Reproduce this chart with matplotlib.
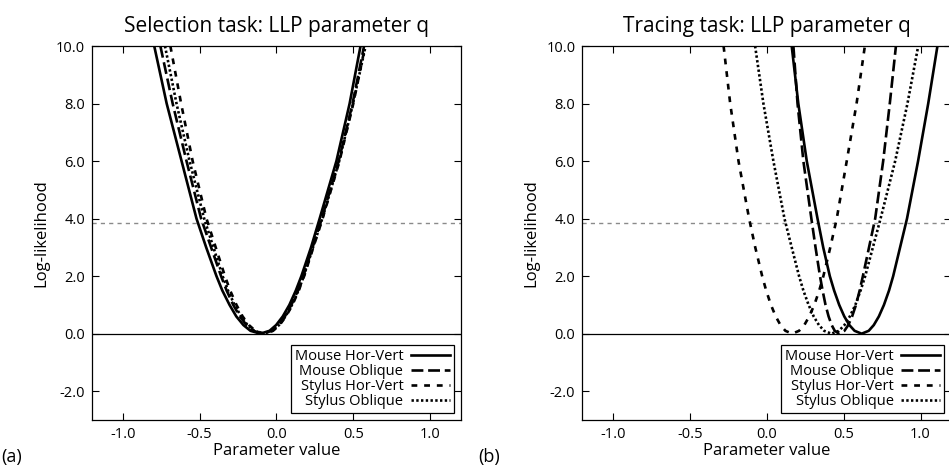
import matplotlib
matplotlib.use("Agg")
import matplotlib.pyplot as plt

plt.rcParams['font.family'] = ['Open Sans', 'DejaVu Sans']

# likelihood levels (left branch top->bottom, right branch bottom->top)
levels_down = [10, 8, 6, 4, 3, 2, 1.5, 1, 0.6, 0.3, 0.1, 0]
levels_up = [0.1, 0.3, 0.6, 1, 1.5, 2, 3, 4, 6, 8, 10]
chi_cut = 3.84

series_names = ['Mouse Hor-Vert', 'Mouse Oblique', 'Stylus Hor-Vert', 'Stylus Oblique']

# (a) Selection task: parameter value at each level
sel_mouse_hv_left = [-0.795, -0.714, -0.617, -0.52, -0.457, -0.39, -0.352, -0.305, -0.261, -0.215, -0.169, -0.105]
sel_mouse_hv_right = [-0.045, -0.002, 0.041, 0.084, 0.126, 0.162, 0.225, 0.281, 0.39, 0.476, 0.547]
sel_mouse_ob_left = [-0.755, -0.675, -0.585, -0.49, -0.425, -0.36, -0.324, -0.281, -0.238, -0.195, -0.15, -0.09]
sel_mouse_ob_right = [-0.031, 0.013, 0.055, 0.097, 0.14, 0.175, 0.235, 0.295, 0.405, 0.495, 0.57]
sel_stylus_hv_left = [-0.69, -0.62, -0.545, -0.455, -0.395, -0.335, -0.301, -0.26, -0.22, -0.179, -0.137, -0.08]
sel_stylus_hv_right = [-0.022, 0.02, 0.062, 0.104, 0.145, 0.18, 0.24, 0.30, 0.41, 0.50, 0.577]
sel_stylus_ob_left = [-0.725, -0.65, -0.565, -0.47, -0.41, -0.35, -0.315, -0.272, -0.23, -0.188, -0.144, -0.085]
sel_stylus_ob_right = [-0.026, 0.017, 0.059, 0.101, 0.143, 0.178, 0.238, 0.298, 0.408, 0.498, 0.58]

# (b) Tracing task
tr_mouse_hv_left = [0.162, 0.205, 0.26, 0.33, 0.367, 0.41, 0.438, 0.471, 0.504, 0.537, 0.571, 0.617]
tr_mouse_hv_right = [0.663, 0.696, 0.729, 0.762, 0.795, 0.822, 0.867, 0.912, 0.984, 1.05, 1.11]
tr_mouse_ob_left = [0.173, 0.20, 0.238, 0.29, 0.317, 0.346, 0.363, 0.382, 0.402, 0.422, 0.442, 0.47]
tr_mouse_ob_right = [0.505, 0.53, 0.555, 0.58, 0.604, 0.625, 0.665, 0.705, 0.757, 0.80, 0.84]
tr_stylus_hv_left = [-0.281, -0.238, -0.184, -0.115, -0.075, -0.03, -0.004, 0.027, 0.058, 0.089, 0.121, 0.165]
tr_stylus_hv_right = [0.21, 0.244, 0.276, 0.309, 0.341, 0.368, 0.413, 0.455, 0.52, 0.584, 0.638]
tr_stylus_ob_left = [-0.076, -0.022, 0.043, 0.115, 0.162, 0.21, 0.238, 0.272, 0.305, 0.339, 0.373, 0.42]
tr_stylus_ob_right = [0.469, 0.505, 0.54, 0.576, 0.61, 0.64, 0.69, 0.74, 0.835, 0.915, 0.985]

x_ticks = [-1.0, -0.5, 0.0, 0.5, 1.0]
y_ticks = [-2, 0, 2, 4, 6, 8, 10]

styles = [
    dict(linestyle='-'),
    dict(linestyle=(0, (4.5, 1.8))),
    dict(linestyle=(0, (2.2, 2.6))),
    dict(linestyle=(0, (0.9, 0.9))),
]

fig = plt.figure(figsize=(9.49, 4.69), dpi=100)
ax_a = fig.add_axes([0.0969, 0.1045, 0.3888, 0.7974])
ax_b = fig.add_axes([0.6136, 0.1045, 0.3888, 0.7974])


def draw_panel(ax, curves, title):
    ax.axhline(0, color='black', lw=0.9, zorder=1)
    ax.axhline(chi_cut, color='#8a8a8a', lw=1.0, linestyle=(0, (3, 3)), zorder=1)
    for (left, right), name, st in zip(curves, series_names, styles):
        xs = list(left) + list(right)
        ys = levels_down + levels_up
        ax.plot(xs, ys, color='black', lw=1.9, label=name, **st)
    ax.set_xlim(-1.2, 1.2)
    ax.set_ylim(-3, 10)
    ax.set_xticks(x_ticks)
    ax.set_yticks(y_ticks)
    ax.set_xticklabels([f'{v:.1f}' for v in x_ticks])
    ax.set_yticklabels([f'{v:.1f}' for v in y_ticks])
    ax.tick_params(direction='in', top=True, right=True, length=5, width=0.8,
                   labelsize=10.5, pad=5, colors='black')
    for sp in ax.spines.values():
        sp.set_linewidth(0.9)
    ax.set_xlabel('Parameter value', fontsize=12, labelpad=1)
    ax.set_ylabel('Log-likelihood', fontsize=12, labelpad=5)
    ax.set_title(title, fontsize=15, pad=10)
    leg = ax.legend(loc='lower right', markerfirst=False, fontsize=10.5, frameon=True,
                    fancybox=False, edgecolor='black', framealpha=1,
                    handlelength=2.7, handletextpad=0.5, borderpad=0.25,
                    labelspacing=0.0, borderaxespad=0.5)
    leg.get_frame().set_linewidth(0.9)


draw_panel(ax_a, [(sel_mouse_hv_left, sel_mouse_hv_right),
                  (sel_mouse_ob_left, sel_mouse_ob_right),
                  (sel_stylus_hv_left, sel_stylus_hv_right),
                  (sel_stylus_ob_left, sel_stylus_ob_right)],
           'Selection task: LLP parameter q')
draw_panel(ax_b, [(tr_mouse_hv_left, tr_mouse_hv_right),
                  (tr_mouse_ob_left, tr_mouse_ob_right),
                  (tr_stylus_hv_left, tr_stylus_hv_right),
                  (tr_stylus_ob_left, tr_stylus_ob_right)],
           'Tracing task: LLP parameter q')

fig.text(0.001, 0.025, '(a)', fontsize=13, ha='left', va='center')
fig.text(0.504, 0.025, '(b)', fontsize=13, ha='left', va='center')

fig.savefig('out.png', dpi=100)
